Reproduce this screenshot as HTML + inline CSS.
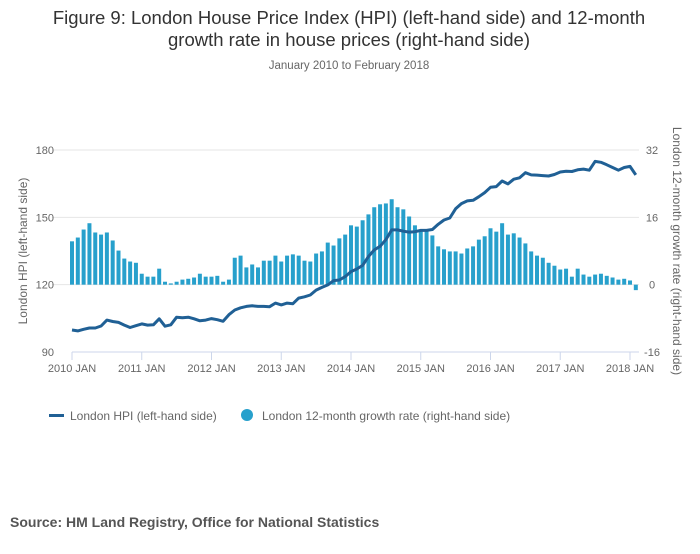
<!DOCTYPE html>
<html><head><meta charset="utf-8"><style>
body{margin:0;width:700px;height:549px;background:#fff;font-family:"Liberation Sans",sans-serif;overflow:hidden}
svg text{font-family:"Liberation Sans",sans-serif}
</style></head><body>
<svg id="chart" width="700" height="549" viewBox="0 0 700 549">
<text x="349" y="24" text-anchor="middle" font-size="18.5" fill="#333">Figure 9: London House Price Index (HPI) (left-hand side) and 12-month</text>
<text x="349" y="46" text-anchor="middle" font-size="18.5" fill="#333">growth rate in house prices (right-hand side)</text>
<text x="349" y="69" text-anchor="middle" font-size="11.5" fill="#666">January 2010 to February 2018</text>
<g id="grid"></g>
<g id="bars"></g>
<path id="hpiLine" fill="none" stroke="#206095" stroke-width="3" stroke-linejoin="round"/>
<g id="axes"></g>
<text transform="translate(27,251) rotate(-90)" text-anchor="middle" font-size="12" fill="#666">London HPI (left-hand side)</text>
<text transform="translate(673,251) rotate(90)" text-anchor="middle" font-size="12" fill="#666">London 12-month growth rate (right-hand side)</text>
<g><rect x="49" y="414" width="15" height="3" fill="#206095"/><text x="70" y="420" font-size="12" fill="#666">London HPI (left-hand side)</text></g>
<g><circle cx="247" cy="415" r="6" fill="#27a0cc"/><text x="262" y="420" font-size="12" fill="#666">London 12-month growth rate (right-hand side)</text></g>
<text x="10" y="527" font-size="14" font-weight="bold" fill="#555">Source: HM Land Registry, Office for National Statistics</text>
</svg>
<script>
const growth=[10.3,11.2,13.1,14.6,12.4,11.9,12.4,10.5,8.1,6.2,5.5,5.2,2.6,1.9,1.9,3.8,0.7,0.3,0.7,1.2,1.4,1.7,2.6,1.9,1.9,2.1,0.7,1.2,6.4,6.9,4.1,4.8,4.1,5.7,5.7,6.9,5.5,6.9,7.2,6.9,5.7,5.5,7.4,7.9,10.0,9.3,11.0,11.9,14.1,13.8,15.3,16.7,18.4,19.1,19.3,20.3,18.4,17.9,16.2,14.1,13.1,13.1,11.7,9.1,8.4,7.9,7.9,7.4,8.6,9.1,10.7,11.5,13.4,12.6,14.6,11.9,12.2,11.2,9.8,7.9,6.9,6.4,5.2,4.5,3.6,3.8,1.9,3.8,2.4,1.9,2.4,2.6,2.1,1.7,1.2,1.4,1.0,-1.3];
const hpi=[99.8,99.4,100.1,100.7,100.7,101.6,104.2,103.6,103.2,102,100.9,101.7,102.5,102,102.1,104.8,101.5,102.1,105.5,105.3,105.5,104.8,103.9,104.2,104.9,104.4,103.7,106.6,108.7,109.7,110.3,110.6,110.3,110.3,110.2,111.8,111,111.8,111.5,114,114.6,115.4,117.6,118.8,119.9,121.8,122.1,123.6,125.8,127,128.6,132.5,135.5,137.1,140.1,144.4,144.4,143.8,143.4,143.6,144.2,144.2,144.6,146.9,148.8,149.7,153.8,156.1,157.3,157.6,159.2,161,163.4,163.7,166.2,164.9,167,167.6,169.9,168.9,168.8,168.6,168.4,169.1,170.2,170.5,170.4,171.2,171.5,171,174.9,174.5,173.4,172.2,171,172.2,172.7,168.9];
const leftTicks=[90,120,150,180];
const rightTicks=[-16,0,16,32];
const yearLabels=["2010 JAN","2011 JAN","2012 JAN","2013 JAN","2014 JAN","2015 JAN","2016 JAN","2017 JAN","2018 JAN"];
const NS="http://www.w3.org/2000/svg";
const X0=72,STEP=69.75/12,TOP=150,BOT=352;
const xm=i=>X0+STEP*i;
const yL=v=>BOT-(v-90)/90*(BOT-TOP);
const yR=v=>BOT-(v+16)/48*(BOT-TOP);
function mk(t,a,p){const e=document.createElementNS(NS,t);for(const k in a)e.setAttribute(k,a[k]);p.appendChild(e);return e;}
const grid=document.getElementById('grid'),axes=document.getElementById('axes'),bars=document.getElementById('bars');
leftTicks.forEach((v,k)=>{
  if(v>90){const g=mk('line',{x1:52,x2:639,y1:yL(v),y2:yL(v),stroke:'#e6e6e6'},grid);
  
  }
  const t=mk('text',{x:54,y:yL(v)+4,'text-anchor':'end','font-size':11,fill:'#666'},axes);t.textContent=v;
  
  
});
rightTicks.forEach(v=>{
  const t=mk('text',{x:652,y:yR(v)+4,'text-anchor':'middle','font-size':11,fill:'#666'},axes);t.textContent=v;
  
  
});
const ax=mk('line',{x1:72,x2:639,y1:BOT,y2:BOT,stroke:'#ccd6eb'},axes);


yearLabels.forEach((s,k)=>{
  const x=xm(k*12);
  mk('line',{x1:x,x2:x,y1:BOT,y2:BOT+8,stroke:'#ccd6eb'},axes);
  const t=mk('text',{x:x,y:372,'text-anchor':'middle','font-size':11,fill:'#666'},axes);t.textContent=s;
  
  
});
growth.forEach((v,i)=>{
  const y0=yR(0),y1=yR(v);
  const r=mk('rect',{x:xm(i)-2,y:Math.min(y0,y1),width:4,height:Math.abs(y1-y0),fill:'#27a0cc'},bars);
  
  
});
document.getElementById('hpiLine').setAttribute('d',hpi.map((v,i)=>(i?'L':'M')+xm(i).toFixed(1)+','+yL(v).toFixed(1)).join(''));
</script>
</body></html>
